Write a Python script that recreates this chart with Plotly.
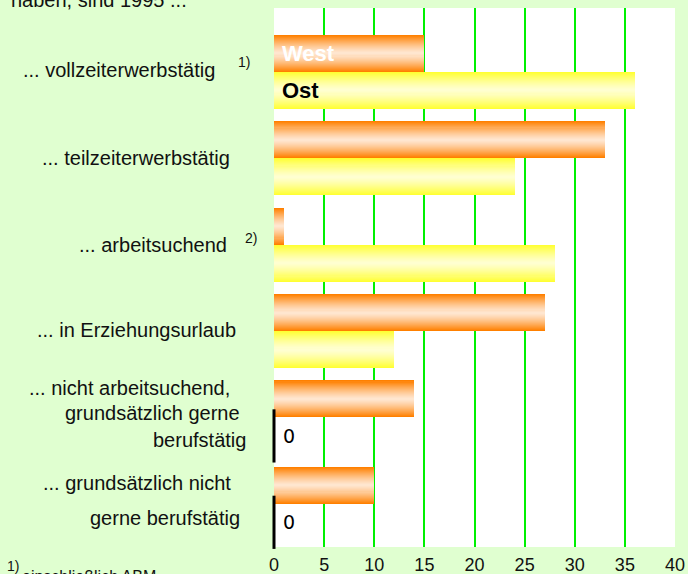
import plotly.graph_objects as go

# ---------------- data ----------------
categories = [
    "vollzeiterwerbstätig",
    "teilzeiterwerbstätig",
    "arbeitsuchend",
    "in Erziehungsurlaub",
    "nicht arbeitsuchend, grundsätzlich gerne berufstätig",
    "grundsätzlich nicht gerne berufstätig",
]
west = [15, 33, 1, 27, 14, 10]
ost = [36, 24, 28, 12, 0, 0]
x_ticks = [0, 5, 10, 15, 20, 25, 30, 35, 40]
series_names = ["West", "Ost"]

label_lines = [
    "... vollzeiterwerbstätig",
    "... teilzeiterwerbstätig",
    "... arbeitsuchend",
    "... in Erziehungsurlaub",
    "... nicht arbeitsuchend,",
    "grundsätzlich gerne",
    "berufstätig",
    "... grundsätzlich nicht",
    "gerne berufstätig",
]
footnote_marks = ["1)", "2)"]
header_text = "haben, sind 1995 ..."
footnote_text = "einschließlich ABM"

# ---------------- layout helpers ----------------
FIG_W, FIG_H = 688, 574
L, R, T, B = 274, 13, 8, 27
PW, PH = FIG_W - L - R, FIG_H - T - B
FONT = "Arial, Liberation Sans, sans-serif"


def px(x):
    return (x - L) / PW


def py(y):
    return 1 - (y - T) / PH


H = 0.428  # bar thickness (in category units)
idx = list(range(len(categories)))


def lerp(c1, c2, t):
    return "rgb(%d,%d,%d)" % tuple(round(a + (b - a) * t) for a, b in zip(c1, c2))


orange_edge, orange_center = (255, 128, 0), (255, 232, 212)
yellow_edge, yellow_center = (255, 255, 51), (255, 255, 212)

fig = go.Figure()

N = 18
for vals, offs, edge, center in [
    (west, -H / 2, orange_edge, orange_center),
    (ost, H / 2, yellow_edge, yellow_center),
]:
    for k in range(N):
        f = 1 - k / N
        fig.add_trace(go.Bar(
            x=vals,
            y=[i + offs for i in idx],
            width=H * f,
            orientation="h",
            marker=dict(color=lerp(center, edge, f ** 1.3), line=dict(width=0)),
            hoverinfo="skip",
            showlegend=False,
        ))

# zero values: black tick
zero_y = [i + H / 2 for i, v in zip(idx, ost) if v == 0]
zero_x = [v for v in ost if v == 0]
fig.add_trace(go.Scatter(
    x=zero_x, y=zero_y, mode="markers",
    marker=dict(symbol="line-ns", size=38, line=dict(width=3, color="black")),
    cliponaxis=False, hoverinfo="skip", showlegend=False,
))

annotations = []
for zx, zy in zip(zero_x, zero_y):
    annotations.append(dict(xref="x", yref="y", x=zx, y=zy, xanchor="left", yanchor="middle",
                            xshift=7, text=str(zx), showarrow=False,
                            font=dict(size=19, color="black", family="DejaVu Sans, sans-serif")))

# series names inside the first bars
annotations.append(dict(xref="x", yref="y", x=0, y=-H / 2, xanchor="left", yanchor="middle",
                        xshift=6, text="<b>%s</b>" % series_names[0], showarrow=False,
                        font=dict(size=22, color="white", family=FONT)))
annotations.append(dict(xref="x", yref="y", x=0, y=H / 2, xanchor="left", yanchor="middle",
                        xshift=6, text="<b>%s</b>" % series_names[1], showarrow=False,
                        font=dict(size=22, color="black", family=FONT)))

# category labels (right edge pixel, center pixel)
label_pos = [(217, 70), (232, 158), (229, 245), (238, 330),
             (232, 388), (242, 413), (248, 440), (233, 483), (242, 518)]
for txt, (xr, yc) in zip(label_lines, label_pos):
    annotations.append(dict(xref="paper", yref="paper", x=px(xr), y=py(yc),
                            xanchor="right", yanchor="middle", text=txt, showarrow=False,
                            font=dict(size=20, color="#111111", family=FONT)))

# superscripts
for txt, (xl, yc) in zip(footnote_marks, [(236, 62), (243, 238)]):
    annotations.append(dict(xref="paper", yref="paper", x=px(xl), y=py(yc),
                            xanchor="left", yanchor="middle", text=txt, showarrow=False,
                            font=dict(size=14, color="#111111", family=FONT)))

# header (cut off at top)
annotations.append(dict(xref="paper", yref="paper", x=px(9), y=py(13),
                        xanchor="left", yanchor="bottom", text=header_text, showarrow=False,
                        font=dict(size=20, color="#111111", family=FONT)))
# footnote (cut off at bottom)
annotations.append(dict(xref="paper", yref="paper", x=px(5), y=py(566),
                        xanchor="left", yanchor="middle", text=footnote_marks[0], showarrow=False,
                        font=dict(size=14, color="#111111", family=FONT)))
annotations.append(dict(xref="paper", yref="paper", x=px(20), y=py(566),
                        xanchor="left", yanchor="top", text=footnote_text, showarrow=False,
                        font=dict(size=16, color="#111111", family=FONT)))

fig.update_layout(
    width=FIG_W, height=FIG_H,
    margin=dict(l=L, r=R, t=T, b=B, pad=0, autoexpand=False),
    paper_bgcolor="#e0ffd0",
    plot_bgcolor="white",
    barmode="overlay",
    bargap=0,
    showlegend=False,
    annotations=annotations,
    xaxis=dict(range=[0, 40], tickvals=x_ticks, ticktext=[str(t) for t in x_ticks],
               showgrid=True, gridcolor="#00f000", gridwidth=2, zeroline=False,
               showline=False, ticks="", fixedrange=True, ticklabelstandoff=5,
               automargin=False,
               tickfont=dict(size=18, color="#111111", family=FONT)),
    yaxis=dict(range=[5.5, -0.74], showgrid=False, zeroline=False, showticklabels=False,
               ticks="", fixedrange=True, automargin=False),
)

fig.write_html(
    "out.html",
    config={"displayModeBar": False, "staticPlot": True},
    post_script="document.body.style.margin='0';document.body.style.padding='0';"
                "document.body.style.overflow='hidden';",
)
